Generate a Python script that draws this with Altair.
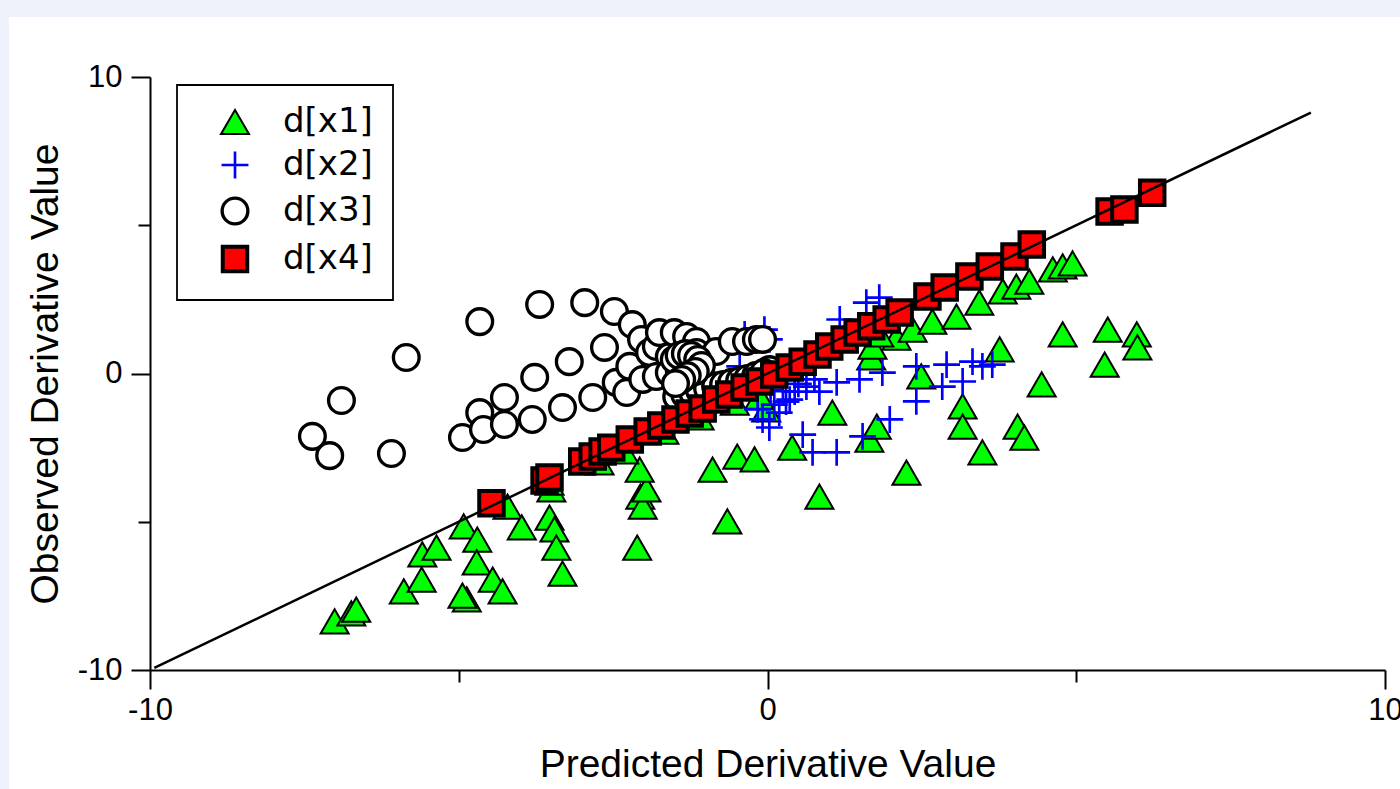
import altair as alt
import pandas as pd

# Series labels
series_names = ["d[x1]", "d[x2]", "d[x3]", "d[x4]"]

# d[x1]: predicted vs observed derivative
x1_pred = [-7.01, -6.74, -6.66, -5.89, -5.60, -5.59, -5.36, -4.92, -4.70, -4.71,
           -4.87, -4.94, -4.45, -4.29, -4.21, -3.98, -3.53, -3.45, -3.42, -3.32,
           -3.50, -2.11, -2.06, -2.02, -1.96, -2.07, -0.89, -0.65, -0.49, -0.21,
           0.40, 0.84, 1.05, 1.65, 1.77, 1.68, 2.25, 2.49, 3.16, 3.16,
           3.48, 4.05, 4.16, 3.76, 4.44, 4.78, 5.51, 5.46, 5.98, 5.99,
           -0.02, 2.09, 1.70, 1.81, 2.35, 2.67, 3.06, 3.43, 3.81, 4.03,
           4.24, 4.62, 4.78, 4.94, -3.53, -2.72, -2.32, -1.67, -1.10, -0.53,
           -0.13]
x1_obs = [-8.36, -8.09, -7.96, -7.35, -6.95, -6.10, -5.87, -5.16, -5.60, -6.37,
          -7.62, -7.49, -6.95, -7.35, -4.49, -5.19, -4.86, -5.26, -5.87, -6.75,
          -3.91, -5.87, -4.15, -4.49, -3.91, -3.24, -3.24, -4.99, -2.80, -2.90,
          -2.50, -4.15, -1.32, -2.23, -1.79, 0.54, -3.34, -0.10, -1.11, -1.79,
          -2.66, -1.79, -2.16, 0.81, -0.37, 1.32, 1.48, 0.30, 1.32, 0.88,
          -1.21, 1.21, 0.91, 1.32, 1.48, 1.75, 1.92, 2.39, 2.77, 2.93,
          3.10, 3.51, 3.61, 3.71, -3.68, -3.00, -2.63, -1.96, -1.48, -0.98,
          -0.78]

# d[x2]
x2_pred = [1.60, 1.81, 1.17, 1.38, 1.49, 1.12, 1.86, 2.41, 2.90, 3.32,
           3.48, 3.64, 3.16, 2.83, 2.41, 1.98, 1.54, 1.12, 0.73, 0.57,
           0.63, 0.76, 0.44, 0.84, 0.36, 0.19, -0.08, 0.03, 0.11, -0.16,
           -0.05, 0.03, -0.37, -0.26, -0.89, -0.45, 0.25, 0.50, 0.30, 0.05]
x2_obs = [2.39, 2.56, 1.82, 1.15, -0.20, -0.30, 0.03, 0.24, 0.30, 0.40,
          0.24, 0.30, -0.27, -0.44, -0.94, -1.55, -2.12, -2.66, -2.66, -2.06,
          -0.44, -0.20, -0.61, -0.61, -0.88, -1.32, -1.55, -1.82, -1.05, -1.21,
          1.48, 1.15, 1.32, 1.15, 0.03, 0.24, -0.60, -0.35, -0.95, -0.55]

# d[x3]
x3_pred = [-7.37, -7.09, -6.90, -6.09, -5.85, -4.94, -4.66, -4.66, -4.60, -4.26,
           -4.26, -3.77, -3.81, -3.69, -3.32, -3.21, -2.96, -2.83, -2.64, -2.48,
           -2.45, -2.28, -2.23, -2.19, -2.04, -2.02, -1.91, -1.80, -1.80, -1.75,
           -1.59, -1.59, -1.51, -1.43, -1.31, -1.31, -1.15, -1.15, -0.83, -0.57,
           -0.34, -0.18, -0.08, 0.03, -1.47, -1.34, -1.21, -1.10, -0.97, -0.84,
           -0.71, -0.58, -0.45, -0.32, -0.19, -0.06, -1.51, -1.43, -1.33, -1.23,
           -1.13, -1.07, -1.17, -1.30, -1.39, -1.49]
x3_obs = [-2.12, -2.77, -0.91, -2.70, 0.54, -2.16, 1.75, -1.32, -1.89, -0.81,
          -1.72, -0.13, -1.55, 2.33, -1.15, 0.40, 2.39, -0.81, 0.88, 2.09,
          -0.30, -0.64, 0.24, 1.65, 1.15, -0.20, 0.71, 0.91, -0.10, 1.38,
          0.57, 0.03, 1.38, 0.13, 1.25, 0.37, 1.08, 0.71, 0.74, 1.08,
          1.08, 1.15, 1.15, 0.13, -0.78, -0.71, -0.64, -0.57, -0.51, -0.44,
          -0.37, -0.30, -0.24, -0.17, -0.07, 0.03, 0.47, 0.61, 0.67, 0.61,
          0.47, 0.27, 0.07, -0.07, -0.20, -0.34]

# d[x4]
x4_pred = [-4.47, -3.61, -3.53, -3.00, -2.83, -2.67, -2.53, -2.23, -1.94, -1.72,
           -1.49, -1.26, -1.05, -0.83, -0.62, -0.37, -0.13, 0.11, 0.36, 0.57,
           0.81, 1.00, 1.25, 1.46, 1.68, 1.93, 2.14, 2.59, 2.87, 3.27,
           3.60, 4.00, 4.28, 5.54, 5.78, 6.23]
x4_obs = [-4.38, -3.61, -3.51, -2.97, -2.80, -2.63, -2.50, -2.23, -1.96, -1.75,
          -1.55, -1.35, -1.18, -0.88, -0.71, -0.47, -0.27, -0.03, 0.20, 0.40,
          0.64, 0.91, 1.15, 1.38, 1.59, 1.82, 2.06, 2.60, 2.90, 3.27,
          3.61, 3.95, 4.35, 5.46, 5.53, 6.10]

# Ends of the y = x reference line
diag_ends = [-9.93, 8.8]

rows = []
for name, xs, ys in zip(series_names,
                        [x1_pred, x2_pred, x3_pred, x4_pred],
                        [x1_obs, x2_obs, x3_obs, x4_obs]):
    for xv, yv in zip(xs, ys):
        rows.append({"series": name, "pred": xv, "obs": yv})
df = pd.DataFrame(rows)
df["idx"] = range(len(df))

diag = pd.DataFrame({"pred": diag_ends, "obs": diag_ends})

FONT = "Liberation Sans"
LEGEND_FONT = "DejaVu Sans"
cross_path = "M-1,0H1M0,-1V1"

xscale = alt.Scale(domain=[-10, 10], nice=False, zero=False)
yscale = alt.Scale(domain=[-10, 10], nice=False, zero=False)

tick_size = {"condition": {"test": "abs(datum.value) % 10 === 0", "value": 19}, "value": 12}
label_expr = "abs(datum.value) % 10 === 0 ? toString(datum.value) : ''"

x_axis = alt.Axis(values=[-10, -5, 0, 5, 10], labelExpr=label_expr, tickSize=tick_size,
                  labelFlush=False, labelOverlap=False, labelPadding=6,
                  titlePadding=20, grid=False, zindex=2)
y_axis = alt.Axis(values=[-10, -5, 0, 5, 10], labelExpr=label_expr, tickSize=tick_size,
                  labelFlush=False, labelOverlap=False, labelPadding=9,
                  titlePadding=12, grid=False, zindex=2)

# white card behind the plot
panel = alt.Chart(pd.DataFrame({"k": [0]})).mark_rect(color="white").encode(
    x=alt.value(-141), x2=alt.value(1250), y=alt.value(-60), y2=alt.value(712)
)

points = alt.Chart(df).mark_point(filled=True, opacity=1).encode(
    x=alt.X("pred:Q", scale=xscale, axis=x_axis, title="Predicted Derivative Value"),
    y=alt.Y("obs:Q", scale=yscale, axis=y_axis, title="Observed Derivative Value"),
    shape=alt.Shape("series:N",
                    scale=alt.Scale(domain=series_names,
                                    range=["triangle-up", cross_path, "circle", "square"]),
                    legend=alt.Legend(title=None, orient="none", legendX=27, legendY=8,
                                      padding=20, strokeColor="black", fillColor="white",
                                      labelFont=LEGEND_FONT, labelFontSize=34, labelColor="black",
                                      rowPadding=7, symbolOffset=21, labelOffset=31)),
    fill=alt.Fill("series:N",
                  scale=alt.Scale(domain=series_names,
                                  range=["#00ff00", "transparent", "#ffffff", "#ff0000"]),
                  title=None),
    stroke=alt.Stroke("series:N",
                      scale=alt.Scale(domain=series_names,
                                      range=["#000000", "#0000ff", "#000000", "#000000"]),
                      title=None),
    strokeWidth=alt.StrokeWidth("series:N",
                                scale=alt.Scale(domain=series_names, range=[2, 4, 2.2, 2.2]),
                                title=None),
    size=alt.Size("series:N",
                  scale=alt.Scale(domain=series_names, range=[784, 600, 680, 484]),
                  title=None),
    order=alt.Order("idx:Q"),
)

line = alt.Chart(diag).mark_line(color="black", strokeWidth=2.5).encode(
    x=alt.X("pred:Q", scale=xscale),
    y=alt.Y("obs:Q", scale=yscale),
)

chart = alt.layer(panel, points, line).properties(
    width=1235, height=593,
    autosize=alt.AutoSizeParams(type="none"),
    padding={"left": 150, "top": 77, "right": 15, "bottom": 119},
    background="#eff1fb",
).configure_view(stroke=None).configure_axis(
    domainColor="black", domainWidth=2, tickColor="black", tickWidth=2,
    labelFont=FONT, labelFontSize=31, labelColor="black",
    titleFont=FONT, titleFontSize=39, titleColor="black", titleFontWeight="normal",
).configure_legend(strokeWidth=1.8)

chart.save("out.html", embed_options={"renderer": "svg", "actions": False})
